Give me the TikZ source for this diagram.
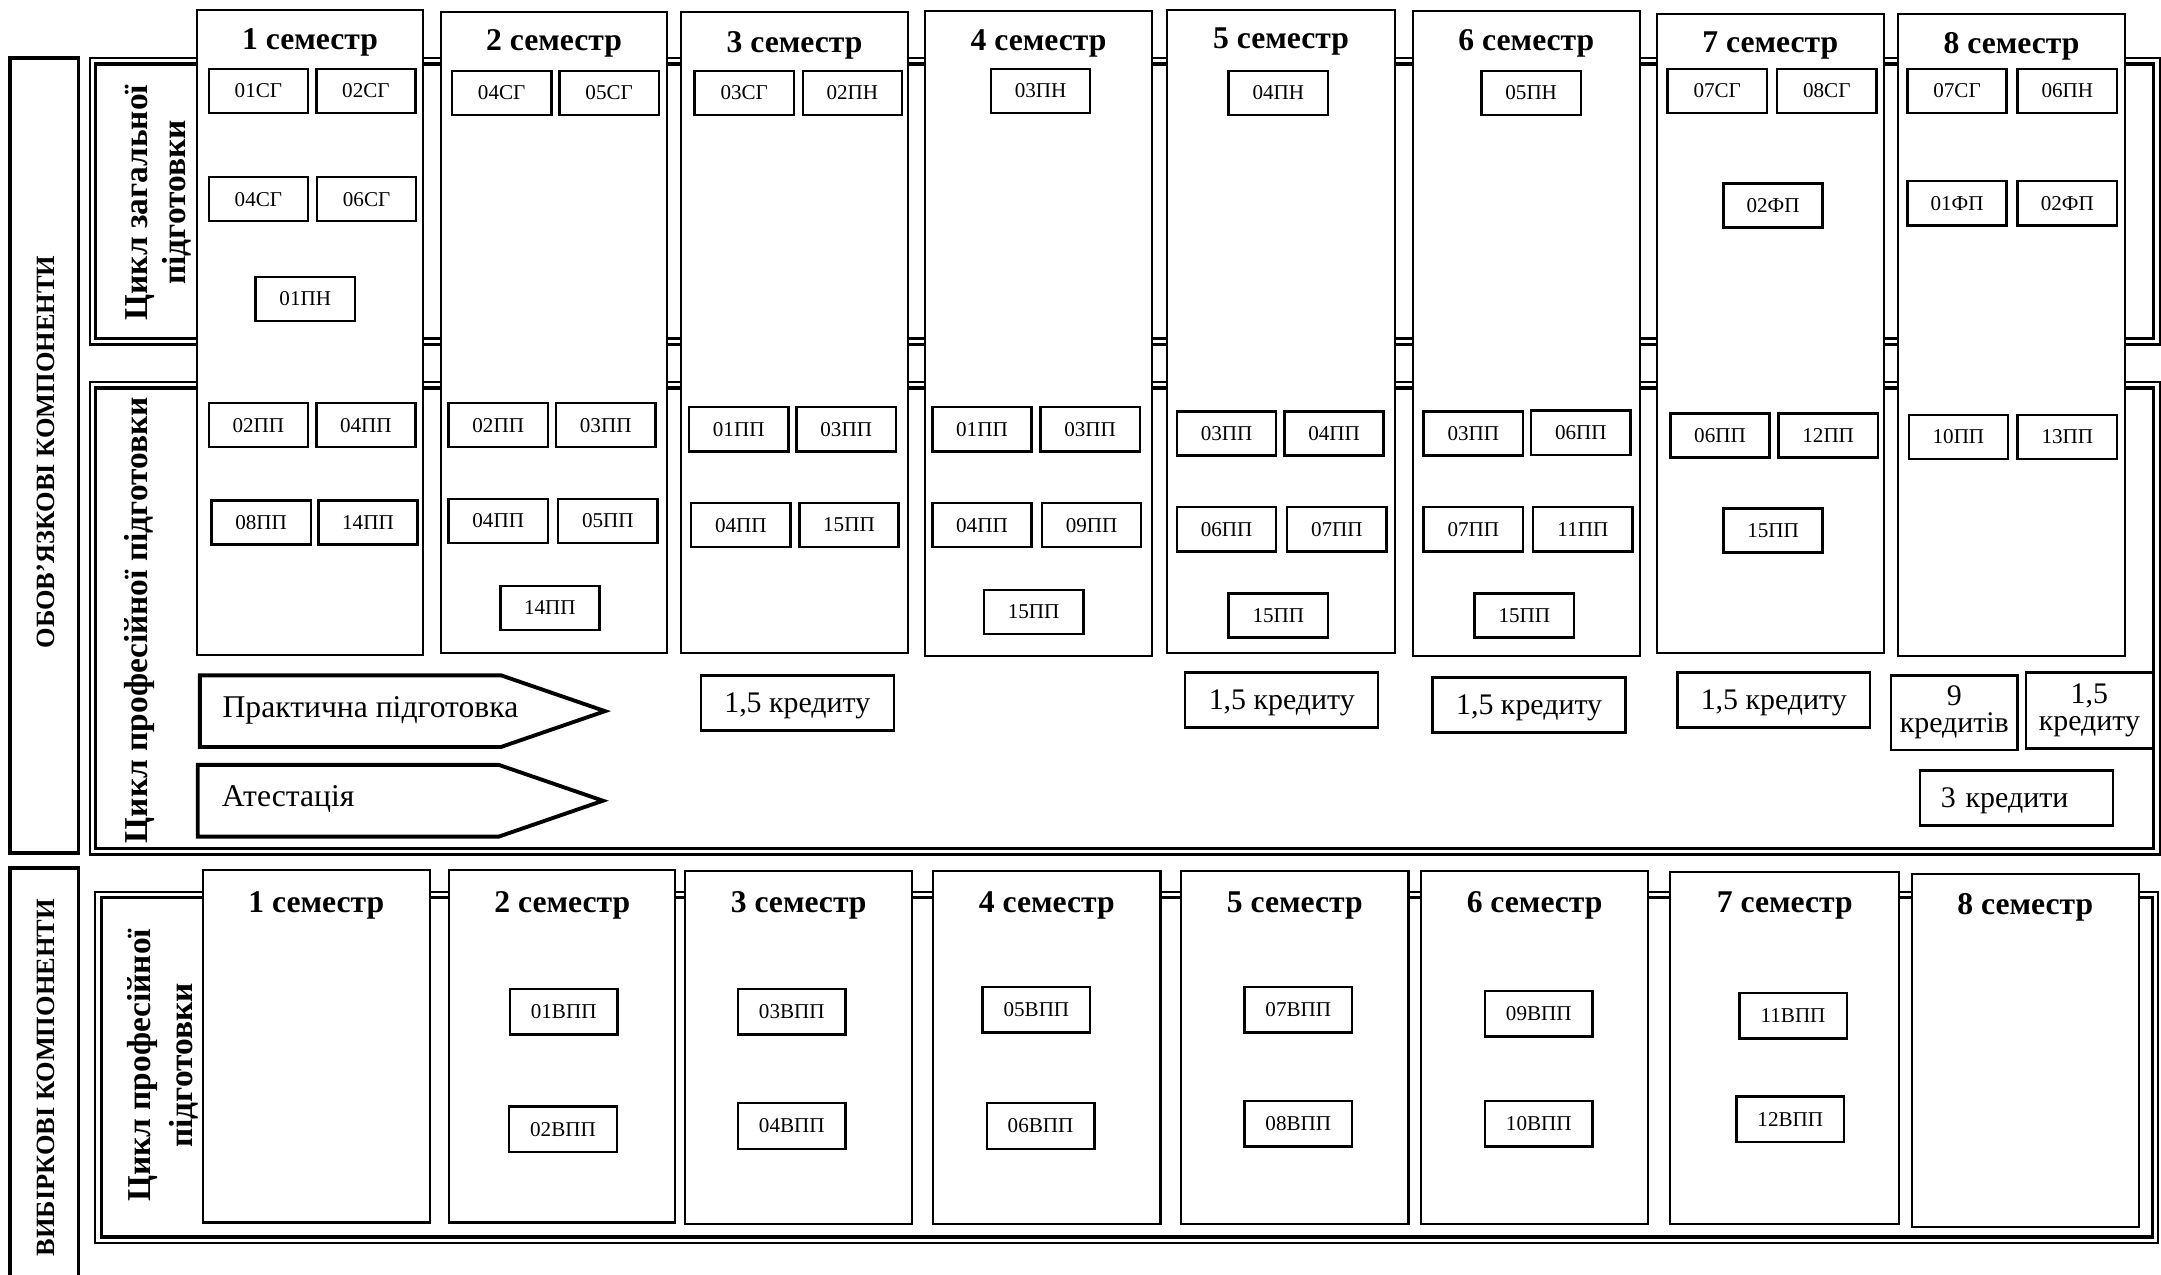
\documentclass[tikz,border=0pt]{standalone}
\usepackage{fontspec}
\setmainfont{Liberation Serif}
\usetikzlibrary{calc}
\newcommand{\dblframe}[4]{%
  \draw[line width=0.6pt] (#1,#2) rectangle (#3,#4);
  \draw[line width=0.9pt] ($(#1,#2)+(4.5,4.5)$) rectangle ($(#3,#4)+(-4.5,-4.5)$);}

\begin{document}
\begin{tikzpicture}[x=0.01378cm, y=-0.01378cm,
  thickbox/.style={draw, line width=1.1pt},
  semcol/.style={draw, fill=white, line width=0.6pt},
  semhead/.style={font=\fontsize{9}{11}\selectfont\bfseries, anchor=base, inner sep=0pt},
  codebox/.style={draw, fill=white, line width=0.7pt, inner sep=0pt, minimum width=0.992cm, minimum height=0.441cm, font=\fontsize{6}{7}\selectfont},
  vppbox/.style={codebox, minimum width=1.075cm, minimum height=0.455cm},
  credbox/.style={draw, line width=0.7pt, inner sep=0pt, minimum width=1.929cm, minimum height=0.551cm, font=\fontsize{8.5}{7.8}\selectfont, align=center},
  cyclelab/.style={rotate=90, font=\fontsize{9.5}{10.8}\selectfont\bfseries, align=center, inner sep=0pt},
  partlab/.style={rotate=90, font=\fontsize{7.5}{9}\selectfont\bfseries, inner sep=0pt},
  arrowtext/.style={font=\fontsize{9}{11}\selectfont, anchor=base west, inner sep=0pt}]
  \useasboundingbox (0,0) rectangle (1568,925);

  % left blocks
  \draw[thickbox] (7,42) rectangle (57,619);
  \draw[thickbox] (7,925) -- (7,630) -- (57,630) -- (57,925);
  \node[partlab] (oblig) at (33,328) {ОБОВ’ЯЗКОВІ КОМПОНЕНТИ};
  \node[partlab] (elect) at (33,782) {ВИБІРКОВІ КОМПОНЕНТИ};

  % cycle frames
  \dblframe{65}{42}{1567}{250}
  \dblframe{65}{277}{1567}{620}
  \dblframe{69}{647}{1566}{902}
  \node[cyclelab] (gen) at (115,147) {Цикл загальної\\підготовки};
  \node[cyclelab] (prof) at (101,450) {Цикл професійної підготовки};
  \node[cyclelab, font=\fontsize{9.5}{11.8}\selectfont\bfseries] (profb) at (118,773) {Цикл професійної\\підготовки};

  % semesters, compulsory part
  \foreach \xa/\ya/\xb/\yb/\bl/\n in {143/7/307/475/36/1, 320/9/484/474/37/2, 494/9/659/474/38/3, 671/8/836/476/37/4,
      847/7/1012/474/35/5, 1025/8/1190/476/37/6, 1202/10/1367/474/38/7, 1377/10/1542/476/38.5/8}{
    \draw[semcol] (\xa,\ya) rectangle (\xb,\yb);
    \node[semhead] (th\n) at ({(\xa+\xb)/2},\bl) {\n\ семестр};
  }
  % semesters, elective part
  \foreach \xa/\ya/\xb/\yb/\bl/\n in {147/631/312/887/662/1, 326/631/490/887/662/2, 497/632/662/888/662/3, 677/632/842/888/662/4,
      857/632/1022/888/662/5, 1031/632/1196/888/662/6, 1212/633/1378/888/662/7, 1387/634/1552/890/663.5/8}{
    \draw[semcol] (\xa,\ya) rectangle (\xb,\yb);
    \node[semhead] (bh\n) at ({(\xa+\xb)/2},\bl) {\n\ семестр};
  }

  % compulsory disciplines
  \foreach \cx/\cy/\lab/\nm in {187.5/66/01СГ/a1, 265.5/66/02СГ/a2, 187.5/144.5/04СГ/a3, 266/144.5/06СГ/a4, 221.5/217/01ПН/a5,
      187.5/308.5/02ПП/a6, 265.5/308.5/04ПП/a7, 189.5/379/08ПП/a8, 267/379/14ПП/a9,
      364/67.5/04СГ/b1, 442/67.5/05СГ/b2, 361.5/308.5/02ПП/b3, 439.5/308.5/03ПП/b4, 361.5/378/04ПП/b5, 441/378/05ПП/b6, 399/441/14ПП/b7,
      540/67.5/03СГ/c1, 618.5/67.5/02ПН/c2, 536/311.5/01ПП/c3, 614/311.5/03ПП/c4, 537.5/381/04ПП/c5, 616/381/15ПП/c6,
      755/66/03ПН/d1, 712.5/311.5/01ПП/d2, 791/311.5/03ПП/d3, 712.5/381/04ПП/d4, 792/381/09ПП/d5, 750/444/15ПП/d6,
      927.5/67.5/04ПН/e1, 890/314.5/03ПП/e2, 968/314.5/04ПП/e3, 890/384/06ПП/e4, 970/384/07ПП/e5, 927.5/446.5/15ПП/e6,
      1111/67.5/05ПН/f1, 1069/314.5/03ПП/f2, 1147/314/06ПП/f3, 1069/384/07ПП/f4, 1148.5/384/11ПП/f5, 1106/446.5/15ПП/f6,
      1246/66/07СГ/g1, 1325.5/66/08СГ/g2, 1286.5/149/02ФП/g3, 1248/316/06ПП/g4, 1326.5/316/12ПП/g5, 1286.5/385/15ПП/g6,
      1420/66/07СГ/h1, 1500/66/06ПН/h2, 1420/147.5/01ФП/h3, 1500/147.5/02ФП/h4, 1421/317/10ПП/h5, 1500/317/13ПП/h6}{
    \node[codebox] (\nm) at (\cx,\cy) {\lab};
  }
  % elective disciplines
  \foreach \cx/\cy/\lab/\nm in {409/734/01ВПП/v1, 408.5/819.5/02ВПП/v2, 574.5/734/03ВПП/v3, 574.5/817/04ВПП/v4,
      752/732.5/05ВПП/v5, 755/817/06ВПП/v6, 942/732.5/07ВПП/v7, 942/815.5/08ВПП/v8,
      1116.5/735.5/09ВПП/v9, 1116.5/815.5/10ВПП/v10, 1301/737/11ВПП/v11, 1299/812/12ВПП/v12}{
    \node[vppbox] (\nm) at (\cx,\cy) {\lab};
  }

  % practice and attestation
  \draw[thickbox] (145,490) -- (363.5,490) -- (439,516) -- (363.5,542) -- (145,542) -- cycle;
  \draw[thickbox] (143.5,555) -- (362,555) -- (437.5,581) -- (362,607) -- (143.5,607) -- cycle;
  \node[arrowtext] (pract) at (161,520.5) {Практична підготовка};
  \node[arrowtext] (atest) at (160.5,585.5) {Атестація};

  % credits
  \node[credbox, text depth=0pt] (k3) at (578.5,510) {1,5 кредиту};
  \node[credbox, text depth=0pt] (k5) at (930,508) {1,5 кредиту};
  \node[credbox, text depth=0pt] (k6) at (1109.5,511.5) {1,5 кредиту};
  \node[credbox, text depth=0pt] (k7) at (1287,508) {1,5 кредиту};
  \node[credbox, minimum width=1.268cm, minimum height=0.744cm] (k8a) at (1418,517) {9\\кредитів};
  \node[credbox, minimum width=1.268cm, minimum height=0.758cm] (k8b) at (1516,515.5) {1,5\\кредиту};
  \node[credbox, text depth=0pt, text width=1.51cm, align=left] (k8c) at (1463,579) {3 кредити};
\end{tikzpicture}
\end{document}
